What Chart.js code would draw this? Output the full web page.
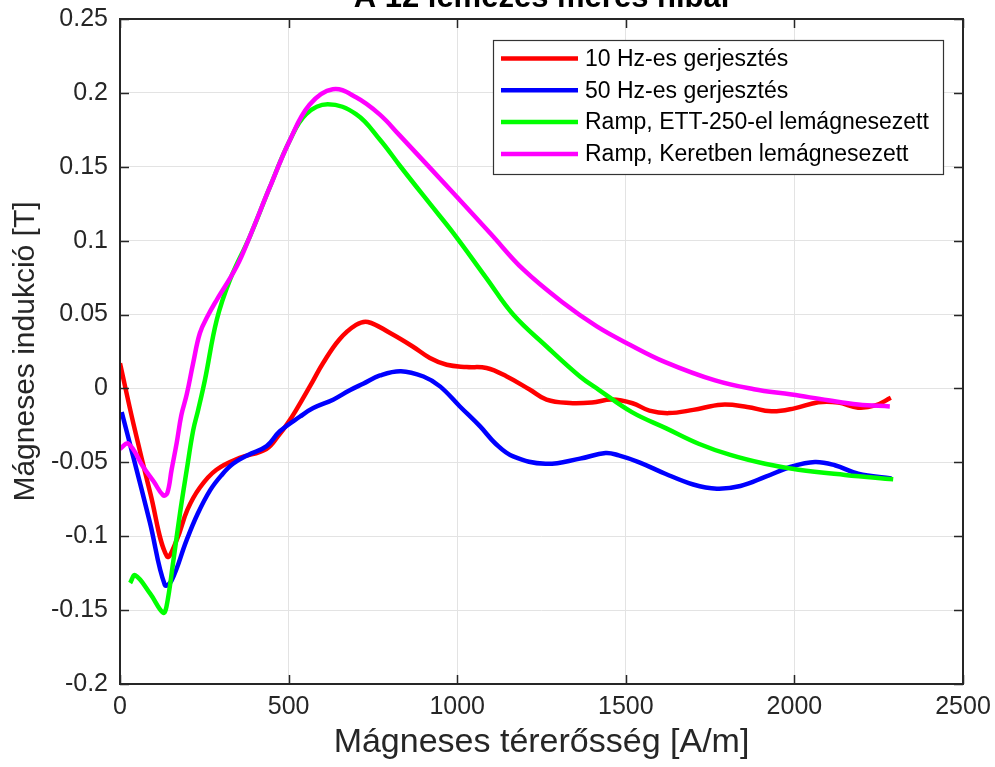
<!DOCTYPE html>
<html>
<head>
<meta charset="utf-8">
<script src="https://cdn.jsdelivr.net/npm/chart.js@4.4.1/dist/chart.umd.min.js"></script>
<style>
  html, body { margin: 0; padding: 0; background: #fff; overflow: hidden; }
  canvas { display: block; }
</style>
</head>
<body>
<canvas id="chart" width="995" height="767"></canvas>
<script>
// values
const seriesNames = ['10 Hz-es gerjesztés', '50 Hz-es gerjesztés', 'Ramp, ETT-250-el lemágnesezett', 'Ramp, Keretben lemágnesezett'];
const seriesColors = ['#ff0000', '#0000ff', '#00ff00', '#ff00ff'];

const redX = [0, 40, 90, 139, 168, 200, 237, 286, 355, 434, 473, 493, 520, 572, 601, 650, 700, 735, 801, 868, 919, 969, 1028, 1087, 1147, 1216, 1265, 1334, 1400, 1459, 1520, 1570, 1627, 1700, 1784, 1860, 1932, 2000, 2071, 2130, 2189, 2240, 2286];
const redY = [0.017, -0.024, -0.071, -0.1135, -0.1027, -0.082, -0.067, -0.055, -0.047, -0.041, -0.031, -0.025, -0.0155, 0.005, 0.0167, 0.033, 0.043, 0.045, 0.0375, 0.0284, 0.0206, 0.016, 0.0145, 0.0138, 0.0081, -0.0009, -0.0076, -0.0099, -0.0095, -0.0075, -0.010, -0.015, -0.0167, -0.0145, -0.011, -0.0125, -0.0155, -0.0135, -0.0093, -0.0095, -0.013, -0.0115, -0.0063];

const blueX = [5, 39, 89, 133, 153, 197, 230, 267, 300, 335, 380, 435, 474, 534, 573, 632, 680, 721, 771, 833, 900, 949, 1008, 1068, 1114, 1166, 1262, 1364, 1440, 1479, 1540, 1617, 1700, 1770, 1840, 1913, 1990, 2061, 2120, 2189, 2288];
const blueY = [-0.016, -0.046, -0.091, -0.133, -0.130, -0.103, -0.085, -0.069, -0.059, -0.051, -0.045, -0.039, -0.029, -0.019, -0.0133, -0.0076, -0.0014, 0.0032, 0.0088, 0.0117, 0.0081, 0.0014, -0.0122, -0.0257, -0.0374, -0.046, -0.051, -0.0475, -0.0437, -0.0453, -0.050, -0.0577, -0.065, -0.0678, -0.066, -0.0599, -0.053, -0.0498, -0.052, -0.0577, -0.061];

const greenX = [30, 45, 90, 128, 138, 158, 178, 198, 217, 232, 252, 287, 326, 385, 444, 503, 552, 616, 700, 771, 830, 919, 988, 1087, 1166, 1265, 1364, 1420, 1518, 1620, 1716, 1810, 1913, 2012, 2150, 2293];
const greenY = [-0.1317, -0.1264, -0.139, -0.1518, -0.1475, -0.117, -0.0843, -0.055, -0.0284, -0.0144, 0.0059, 0.0465, 0.0735, 0.1028, 0.136, 0.1676, 0.1856, 0.1923, 0.1856, 0.1683, 0.1507, 0.125, 0.1053, 0.0745, 0.050, 0.0284, 0.0081, -0.0009, -0.016, -0.027, -0.0374, -0.045, -0.051, -0.055, -0.0585, -0.0615];

const magentaX = [0, 25, 69, 100, 128, 140, 153, 168, 182, 198, 217, 237, 260, 287, 346, 385, 444, 503, 562, 631, 700, 769, 828, 998, 1100, 1196, 1315, 1414, 1512, 1617, 1765, 1880, 1992, 2100, 2189, 2283];
const magentaY = [-0.0408, -0.0374, -0.0532, -0.063, -0.0723, -0.071, -0.055, -0.037, -0.018, -0.004, 0.0172, 0.0375, 0.049, 0.060, 0.0825, 0.1028, 0.136, 0.1676, 0.192, 0.2025, 0.197, 0.1856, 0.1716, 0.1299, 0.1045, 0.0805, 0.0578, 0.042, 0.0296, 0.0178, 0.0054, -0.0005, -0.0041, -0.008, -0.0108, -0.0122];

const xTicks = [0, 500, 1000, 1500, 2000, 2500];
const yTicks = [-0.2, -0.15, -0.1, -0.05, 0, 0.05, 0.1, 0.15, 0.2, 0.25];

const titleText = 'A 12 lemezes mérés hibái';
const xTitle = 'Mágneses térerősség [A/m]';
const yTitle = 'Mágneses indukció [T]';

const FONT = "'Liberation Sans', Arial, sans-serif";
const AX = '#262626';

function pts(xs, ys) { return xs.map((x, i) => ({ x, y: ys[i] })); }

const allX = [redX, blueX, greenX, magentaX];
const allY = [redY, blueY, greenY, magentaY];

// MATLAB-like box, inward ticks, title and legend
const decor = {
  id: 'decor',
  afterDraw(chart) {
    const { ctx, chartArea: a, scales: { x, y } } = chart;
    ctx.save();
    ctx.strokeStyle = AX;
    ctx.lineWidth = 1.5;
    ctx.beginPath();
    xTicks.forEach(v => {
      const px = Math.round(x.getPixelForValue(v)) + 0.5;
      ctx.moveTo(px, a.bottom); ctx.lineTo(px, a.bottom - 9);
      ctx.moveTo(px, a.top); ctx.lineTo(px, a.top + 9);
    });
    yTicks.forEach(v => {
      const py = Math.round(y.getPixelForValue(v)) + 0.5;
      ctx.moveTo(a.left, py); ctx.lineTo(a.left + 9, py);
      ctx.moveTo(a.right, py); ctx.lineTo(a.right - 9, py);
    });
    ctx.stroke();
    ctx.lineWidth = 2;
    ctx.strokeRect(a.left, a.top, a.right - a.left, a.bottom - a.top);

    // title (clipped at the top like the reference)
    ctx.fillStyle = '#000';
    ctx.font = 'bold 31px ' + FONT;
    ctx.textAlign = 'center';
    ctx.textBaseline = 'alphabetic';
    ctx.fillText(titleText, (a.left + a.right) / 2, 7);

    // legend
    const lx = 493, ly = 40, lw = 450, lh = 134, row = 31.8;
    ctx.fillStyle = '#fff';
    ctx.fillRect(lx, ly, lw, lh);
    ctx.strokeStyle = '#333';
    ctx.lineWidth = 1.2;
    ctx.strokeRect(lx + 0.5, ly + 0.5, lw, lh);
    ctx.font = '23px ' + FONT;
    ctx.textAlign = 'left';
    ctx.textBaseline = 'middle';
    seriesNames.forEach((name, i) => {
      const cy = ly + 18.5 + i * row;
      ctx.strokeStyle = seriesColors[i];
      ctx.lineWidth = 4.5;
      ctx.beginPath();
      ctx.moveTo(501, cy); ctx.lineTo(578, cy);
      ctx.stroke();
      ctx.fillStyle = '#000';
      ctx.fillText(name, 585, cy + 1);
    });
    ctx.restore();
  }
};

new Chart(document.getElementById('chart').getContext('2d'), {
  type: 'line',
  data: {
    datasets: seriesNames.map((label, i) => ({
      label,
      data: pts(allX[i], allY[i]),
      borderColor: seriesColors[i],
      backgroundColor: seriesColors[i],
      borderWidth: 4.5,
      pointRadius: 0,
      fill: false,
      tension: 0.4,
      order: 3 - i
    }))
  },
  options: {
    responsive: false,
    animation: false,
    devicePixelRatio: 1,
    layout: { padding: { left: 0, right: 32, top: 19, bottom: 0 } },
    plugins: { legend: { display: false }, title: { display: false }, tooltip: { enabled: false } },
    scales: {
      x: {
        type: 'linear',
        min: 0, max: 2500,
        afterBuildTicks: s => { s.ticks = xTicks.map(v => ({ value: v })); },
        afterFit: s => { s.height = 83; s.paddingLeft = 0; s.paddingRight = 0; },
        grid: { color: '#e3e3e3', lineWidth: 1, drawTicks: false },
        border: { display: false },
        ticks: { color: AX, font: { family: FONT, size: 25 }, padding: 8, maxRotation: 0, callback: v => String(v) },
        title: { display: true, text: xTitle, color: AX, font: { family: FONT, size: 34, lineHeight: 1.2 }, padding: { top: 0, bottom: 4 } }
      },
      y: {
        type: 'linear',
        min: -0.2, max: 0.25,
        afterBuildTicks: s => { s.ticks = yTicks.map(v => ({ value: v })); },
        afterFit: s => { s.width = 120; s.paddingTop = 0; s.paddingBottom = 0; },
        grid: { color: '#e3e3e3', lineWidth: 1, drawTicks: false },
        border: { display: false },
        ticks: { color: AX, font: { family: FONT, size: 25 }, padding: 12, callback: v => String(parseFloat(v.toFixed(2))) },
        title: { display: true, text: yTitle, color: AX, font: { family: FONT, size: 30, lineHeight: 1.2 }, padding: { top: 8, bottom: 0 } }
      }
    }
  },
  plugins: [decor]
});
</script>
</body>
</html>
